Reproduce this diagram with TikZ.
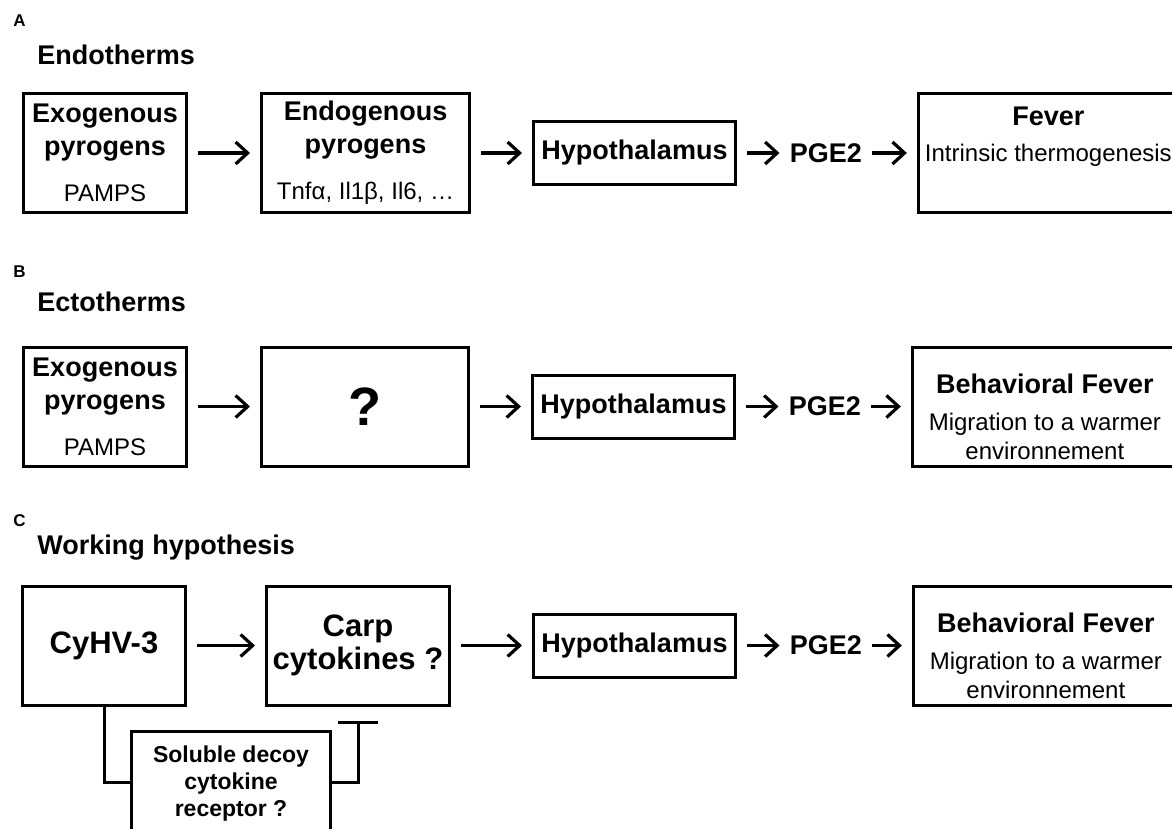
\documentclass[tikz,border=0pt]{standalone}
\usepackage{fontspec}
\setmainfont{Liberation Sans}
\usetikzlibrary{arrows.meta, positioning}
\newcommand{\detail}[1]{{\fontsize{12}{14}\selectfont\mdseries #1}}
\newcommand{\upstrut}[1]{\rule{0pt}{#1}}
\newcommand{\downstrut}[1]{\rule[-#1]{0pt}{#1}}

\begin{document}
\begin{tikzpicture}[
  x=0.5pt, y=-0.5pt,
  box/.style={draw,line width=1.5pt,align=center,inner sep=0pt,
    minimum width=81.5pt,minimum height=59.5pt,
    font=\fontsize{13.5}{16.5}\selectfont\bfseries},
  hypbox/.style={box,minimum width=101pt,minimum height=31.5pt},
  bigbox/.style={box,font=\fontsize{15.5}{16.5}\selectfont\bfseries},
  midtxt/.style={inner sep=0pt,font=\fontsize{13.5}{16.5}\selectfont\bfseries},
  panel/.style={inner sep=0pt,anchor=west,font=\fontsize{8.5}{10}\selectfont\bfseries},
  heading/.style={inner sep=0pt,anchor=west,font=\fontsize{13.5}{16.5}\selectfont\bfseries},
  arrow/.style={-{Straight Barb[length=6pt,width=11pt,line width=1.6pt]},line width=1.6pt,
    shorten <=5pt,shorten >=5pt},
  inhib/.style={line width=1.5pt}
]
\path[use as bounding box,fill=white] (0,0) rectangle (1172,829);

\node[panel] (labA) at (13,21) {A};
\node[heading] (headA) at (37,55) {Endotherms};
\node[box] (exoA) at (105,153) {Exogenous\\pyrogens\\[6.5pt]\detail{PAMPS}};
\node[box,minimum width=104pt,right=36pt of exoA] (endoA) {Endogenous\\pyrogens\\[6.5pt]\detail{Tnfα, Il1β, Il6, …}};
\node[hypbox,right=30.5pt of endoA] (hypA) {Hypothalamus};
\node[midtxt,right=26.25pt of hypA] (pgeA) {PGE2};
\node[box,minimum width=130pt,right=27.25pt of pgeA] (fevA) {\upstrut{16.25pt}Fever\\[1.5pt]\detail{Intrinsic thermogenesis\downstrut{25.25pt}}};

\node[panel] (labB) at (13,272) {B};
\node[heading] (headB) at (37,302) {Ectotherms};
\node[box] (exoB) at (105,406.5) {Exogenous\\pyrogens\\[6.5pt]\detail{PAMPS}};
\node[box,minimum width=103.5pt,right=36pt of exoB,font=\fontsize{27}{30}\selectfont\bfseries] (quesB) {?};
\node[hypbox,right=30.5pt of quesB] (hypB) {Hypothalamus};
\node[midtxt,right=26.25pt of hypB] (pgeB) {PGE2};
\node[box,minimum width=132.5pt,right=24.75pt of pgeB] (behB) {\upstrut{23.25pt}Behavioral Fever\\[2pt]\detail{Migration to a warmer}\\[-2pt]\detail{environnement\downstrut{3.25pt}}};

\node[panel] (labC) at (13,521) {C};
\node[heading] (headC) at (37,548) {Working hypothesis};
\node[bigbox] (cyhv) at (104,645.5) {CyHV-3};
\node[bigbox,minimum width=91.5pt,right=39pt of cyhv] (carp) {Carp\\cytokines ?};
\node[hypbox,right=40.5pt of carp] (hypC) {Hypothalamus};
\node[midtxt,right=26.25pt of hypC] (pgeC) {PGE2};
\node[box,minimum width=132.5pt,right=24.75pt of pgeC] (behC) {\upstrut{23.25pt}Behavioral Fever\\[2pt]\detail{Migration to a warmer}\\[-2pt]\detail{environnement\downstrut{3.25pt}}};
\node[box,minimum width=99.5pt,minimum height=0pt,font=\fontsize{11.5}{13.5}\selectfont\bfseries] (decoy) at (231,782) {\upstrut{15.25pt}Soluble decoy\\cytokine\\receptor ?\downstrut{8.25pt}};

\draw[arrow] (exoA) -- (endoA);
\draw[arrow] (endoA) -- (hypA);
\draw[arrow] (hypA) -- (pgeA);
\draw[arrow] (pgeA) -- (fevA);
\draw[arrow] (exoB) -- (quesB);
\draw[arrow] (quesB) -- (hypB);
\draw[arrow] (hypB) -- (pgeB);
\draw[arrow] (pgeB) -- (behB);
\draw[arrow] (cyhv) -- (carp);
\draw[arrow] (carp) -- (hypC);
\draw[arrow] (hypC) -- (pgeC);
\draw[arrow] (pgeC) -- (behC);
\draw[inhib] (cyhv.south) |- (decoy.west);
\draw[inhib,-{Bar[width=20pt]},shorten >=7pt] (decoy.east) -| (carp.south);
\end{tikzpicture}
\end{document}
